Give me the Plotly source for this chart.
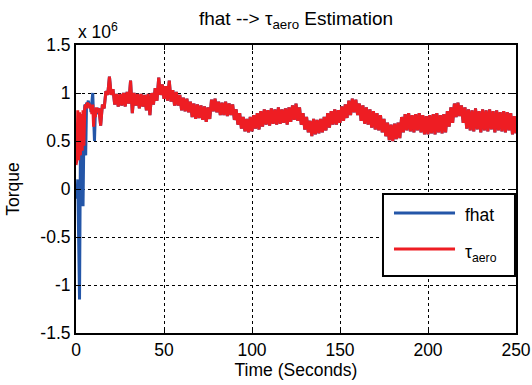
import numpy as np
import plotly.graph_objects as go

# ---- data (values in units of 1e6 N·m) ----
# early segment: 0 .. 12 s at 0.5 s steps
t_early = [0.0, 0.5, 1.0, 1.5, 2.0, 2.5, 3.0, 3.5, 4.0, 4.5, 5.0, 5.5, 6.0,
           6.5, 7.0, 7.5, 8.0, 8.5, 9.0, 9.5, 10.0, 10.5, 11.0, 11.5, 12.0]
tau_early = [0.25, 0.30, 0.82, 0.30, 0.80, 0.35, 0.78, 0.40, 0.82, 0.45, 0.85, 0.88, 0.84,
             0.90, 0.86, 0.89, 0.84, 0.88, 0.78, 0.88, 0.65, 0.82, 0.75, 0.85, 0.80]
fhat_early = [0.05, -0.10, 0.10, -0.60, -1.15, 0.40, 0.15, 0.55, -0.18, 0.60, 0.88, 0.35, 0.90,
              0.88, 0.92, 0.85, 0.90, 0.80, 0.88, 1.00, 0.75, 0.50, 0.80, 0.78, 0.82]

# later segment: 13 .. 250 s at 1 s steps
t_late = list(range(13, 251))
tau_late = [
    0.84, 0.66, 0.88, 0.84, 1.02, 0.98, 1.17, 0.98, 1.04, 0.88,
    0.99, 0.86, 0.99, 0.87, 1.00, 0.86, 1.01, 0.89, 1.13, 0.79,
    1.00, 0.87, 0.99, 0.84, 0.99, 0.86, 0.98, 0.82, 0.99, 0.77,
    1.00, 0.88, 1.05, 0.92, 1.16, 0.98, 1.09, 0.94, 1.07, 0.92,
    1.13, 0.91, 1.03, 0.87, 1.01, 0.87, 0.98, 0.82, 0.95, 0.81,
    0.94, 0.80, 0.91, 0.75, 0.89, 0.73, 0.88, 0.74, 0.87, 0.72,
    0.86, 0.70, 0.85, 0.73, 0.93, 0.81, 0.94, 0.80, 0.91, 0.77,
    0.90, 0.77, 0.91, 0.76, 0.89, 0.77, 0.88, 0.72, 0.83, 0.67,
    0.79, 0.63, 0.75, 0.60, 0.73, 0.59, 0.75, 0.60, 0.77, 0.63,
    0.79, 0.62, 0.81, 0.65, 0.83, 0.67, 0.82, 0.66, 0.84, 0.68,
    0.83, 0.67, 0.85, 0.68, 0.83, 0.69, 0.84, 0.67, 0.85, 0.70,
    0.87, 0.72, 0.89, 0.71, 0.85, 0.67, 0.79, 0.62, 0.75, 0.59,
    0.71, 0.55, 0.73, 0.57, 0.72, 0.58, 0.73, 0.59, 0.75, 0.61,
    0.79, 0.64, 0.81, 0.67, 0.83, 0.67, 0.82, 0.69, 0.86, 0.71,
    0.88, 0.74, 0.92, 0.77, 0.94, 0.80, 0.93, 0.77, 0.89, 0.71,
    0.87, 0.68, 0.85, 0.67, 0.83, 0.64, 0.81, 0.62, 0.79, 0.61,
    0.77, 0.59, 0.73, 0.55, 0.69, 0.51, 0.67, 0.50, 0.68, 0.52,
    0.69, 0.53, 0.75, 0.59, 0.78, 0.61, 0.79, 0.60, 0.77, 0.59,
    0.78, 0.61, 0.79, 0.59, 0.77, 0.57, 0.76, 0.57, 0.77, 0.58,
    0.78, 0.57, 0.79, 0.59, 0.77, 0.58, 0.78, 0.59, 0.81, 0.65,
    0.85, 0.69, 0.89, 0.75, 0.90, 0.76, 0.87, 0.69, 0.85, 0.63,
    0.83, 0.61, 0.82, 0.60, 0.84, 0.62, 0.81, 0.59, 0.83, 0.61,
    0.82, 0.60, 0.83, 0.62, 0.81, 0.59, 0.82, 0.61, 0.80, 0.60,
    0.81, 0.59, 0.80, 0.61, 0.79, 0.57, 0.76, 0.58,
]

time = t_early + t_late
tau_aero = tau_early + tau_late
fhat = fhat_early + tau_late  # estimate coincides with tau_aero after convergence

y_ticks = [-1.5, -1.0, -0.5, 0.0, 0.5, 1.0, 1.5]
y_tick_text = ["-1.5", "-1", "-0.5", "0", "0.5", "1", "1.5"]
x_ticks = [0, 50, 100, 150, 200, 250]

BLUE = "#2456A8"
RED = "#EE1D23"
FONT = "Liberation Sans, Arial, sans-serif"
FS = 17.5

fig = go.Figure()
fig.add_trace(go.Scatter(x=time, y=fhat, mode="lines", name="fhat",
                         line=dict(color=BLUE, width=3), showlegend=False))
fig.add_trace(go.Scatter(x=time, y=tau_aero, mode="lines", name="τ<sub>aero</sub>",
                         line=dict(color=RED, width=3), showlegend=False))

axis_common = dict(
    showline=True, linecolor="black", linewidth=2, mirror="ticks",
    ticks="inside", ticklen=5, tickcolor="black", tickwidth=1,
    showgrid=True, gridcolor="black", griddash="dot", gridwidth=1,
    zeroline=False, automargin=False,
    tickfont=dict(size=FS, color="black", family=FONT),
)

fig.update_xaxes(range=[0, 250], tickvals=x_ticks,
                 title=dict(text="Time (Seconds)", font=dict(size=FS, color="black", family=FONT), standoff=4),
                 **axis_common)
fig.update_yaxes(range=[-1.5, 1.5], tickvals=y_ticks, ticktext=y_tick_text,
                 title=dict(text="Torque", font=dict(size=FS, color="black", family=FONT), standoff=16),
                 **axis_common)

# manual legend box
lx0, lx1, ly0, ly1 = 0.6977, 0.9977, 0.1979, 0.4826
shapes = [
    dict(type="rect", xref="paper", yref="paper", x0=lx0, x1=lx1, y0=ly0, y1=ly1,
         line=dict(color="black", width=2), fillcolor="white", layer="above"),
    dict(type="line", xref="paper", yref="paper", x0=0.7227, x1=0.8614, y0=0.4167, y1=0.4167,
         line=dict(color=BLUE, width=3), layer="above"),
    dict(type="line", xref="paper", yref="paper", x0=0.7227, x1=0.8614, y0=0.2917, y1=0.2917,
         line=dict(color=RED, width=3), layer="above"),
]
annotations = [
    dict(text="fhat", xref="paper", yref="paper", x=0.8795, y=0.4100, xanchor="left", yanchor="middle",
         showarrow=False, font=dict(size=FS, color="black", family=FONT)),
    dict(text="τ<sub>aero</sub>", xref="paper", yref="paper", x=0.8795, y=0.2750, xanchor="left", yanchor="middle",
         showarrow=False, font=dict(size=FS, color="black", family=FONT)),
    dict(text="x 10<sup>6</sup>", xref="paper", yref="paper", x=0.0, y=1.0, xanchor="left", yanchor="bottom",
         yshift=1, showarrow=False, font=dict(size=FS, color="black", family=FONT)),
]

fig.update_layout(
    width=532, height=385,
    margin=dict(l=76, r=16, t=45, b=52, autoexpand=False),
    paper_bgcolor="white", plot_bgcolor="white",
    title=dict(text="fhat --> τ<sub>aero</sub> Estimation", x=0.5564, xanchor="center",
               y=0.9532, yanchor="middle", font=dict(size=19, color="black", family=FONT)),
    shapes=shapes, annotations=annotations,
    font=dict(family=FONT, color="black"),
)

# remove the default page margin so the figure fills the 532x385 window exactly
fig.write_html("out.html",
               config={"displayModeBar": False},
               post_script="document.body.style.margin='0';document.body.style.overflow='hidden';")
